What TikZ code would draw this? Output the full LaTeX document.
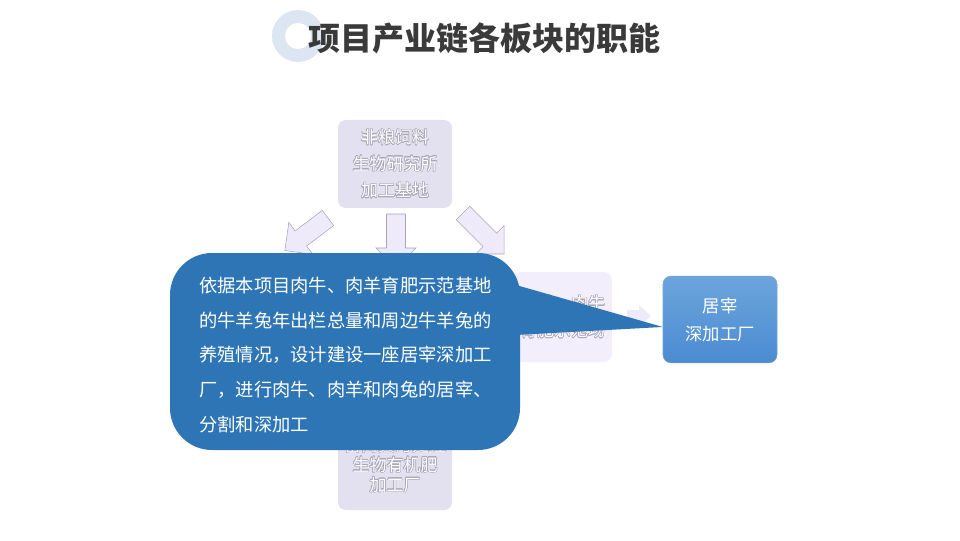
\documentclass[tikz,border=0pt]{standalone}
\usepackage{fontspec}
\usepackage{contour}
\usepackage{tikz}
\setmainfont{Noto Sans CJK SC}
\definecolor{titlegray}{HTML}{3A3A3A}
\definecolor{ringblue}{HTML}{DCE6F2}
\definecolor{boxlilac}{HTML}{E3E0EF}
\definecolor{farmlilac}{HTML}{F3EEFC}
\definecolor{arrowlilac}{HTML}{EEEAFA}
\definecolor{arrowedge}{HTML}{A8A3B8}
\definecolor{fadegray}{HTML}{A9A6B8}
\definecolor{factorytop}{HTML}{6CA5DD}
\definecolor{factorybot}{HTML}{4B8BD1}
\definecolor{noteblue}{HTML}{2E75B6}
\contourlength{0.4pt}
\newcommand{\fadedline}[1]{\contour{fadegray}{#1}}

\begin{document}
\begin{tikzpicture}[x=0.75pt, y=0.75pt,
    lilacbox/.style={rounded corners=6pt, fill=boxlilac, text=white, align=center,
        minimum width=85.5pt, minimum height=66pt, inner sep=0pt},
    fatarrow/.style={fill=arrowlilac, draw=arrowedge, line width=0.4pt}]
    \useasboundingbox (0,0) rectangle (960,540);

    % title
    \draw[ringblue, line width=9.75pt] (298,504) circle (19.5);
    \node[titlegray, font=\fontsize{24}{28}\selectfont\bfseries] (title) at (484,502) {项目产业链各板块的职能};

    % faded boxes behind the note
    \node[lilacbox, font=\fontsize{12.75}{20}\selectfont] (feed) at (395,376)
        {\fadedline{非粮饲料}\\\fadedline{生物研究所}\\\fadedline{加工基地}};
    \node[lilacbox, fill=farmlilac, minimum width=74pt, minimum height=67.5pt,
        font=\fontsize{12.75}{20}\selectfont] (farm) at (562.5,223)
        {\fadedline{肉羊、肉牛}\\\fadedline{育肥示范场}};
    \node[lilacbox, minimum height=67.5pt, font=\fontsize{12.75}{15}\selectfont] (manure) at (395,75)
        {\fadedline{畜禽粪污处理}\\\fadedline{生物有机肥}\\\fadedline{加工厂}};

    % block arrows out of the feed base
    \draw[fatarrow, shift={(328,322)}, rotate=217] (0,9.5) -- (34,9.5) -- (34,20) -- (54,0) -- (34,-20) -- (34,-9.5) -- (0,-9.5) -- cycle;
    \draw[fatarrow, shift={(396,326)}, rotate=270] (0,9.5) -- (34,9.5) -- (34,20) -- (54,0) -- (34,-20) -- (34,-9.5) -- (0,-9.5) -- cycle;
    \draw[fatarrow, shift={(463,327)}, rotate=-45] (0,9.5) -- (38,9.5) -- (38,20) -- (58,0) -- (38,-20) -- (38,-9.5) -- (0,-9.5) -- cycle;
    \draw[fatarrow, draw=none, shift={(627,224)}] (0,6) -- (12,6) -- (12,11) -- (24,0) -- (12,-11) -- (12,-6) -- (0,-6) -- cycle;

    % slaughter plant
    \node[rounded corners=6pt, top color=factorytop, bottom color=factorybot, draw=factorybot!80!white,
        text=white, align=center, minimum width=85.5pt, minimum height=65pt,
        font=\fontsize{13}{21}\selectfont] (factory) at (720,220.5) {居宰\\深加工厂};

    % callout
    \fill[noteblue] (516,255) -- ([yshift=-5.6pt]factory.west) -- (516,205) -- cycle;
    \node[fill=noteblue, rounded corners=31.5pt, minimum width=262.5pt, minimum height=147.75pt] (note) at (345,188.5) {};
    \node[text=white, align=left, inner sep=0pt, anchor=west, font=\fontsize{13.7}{25.9}\selectfont] (notetext) at (199,185)
        {依据本项目肉牛、肉羊育肥示范基地\\的牛羊兔年出栏总量和周边牛羊兔的\\养殖情况，设计建设一座居宰深加工\\厂，进行肉牛、肉羊和肉兔的居宰、\\分割和深加工};
\end{tikzpicture}
\end{document}
